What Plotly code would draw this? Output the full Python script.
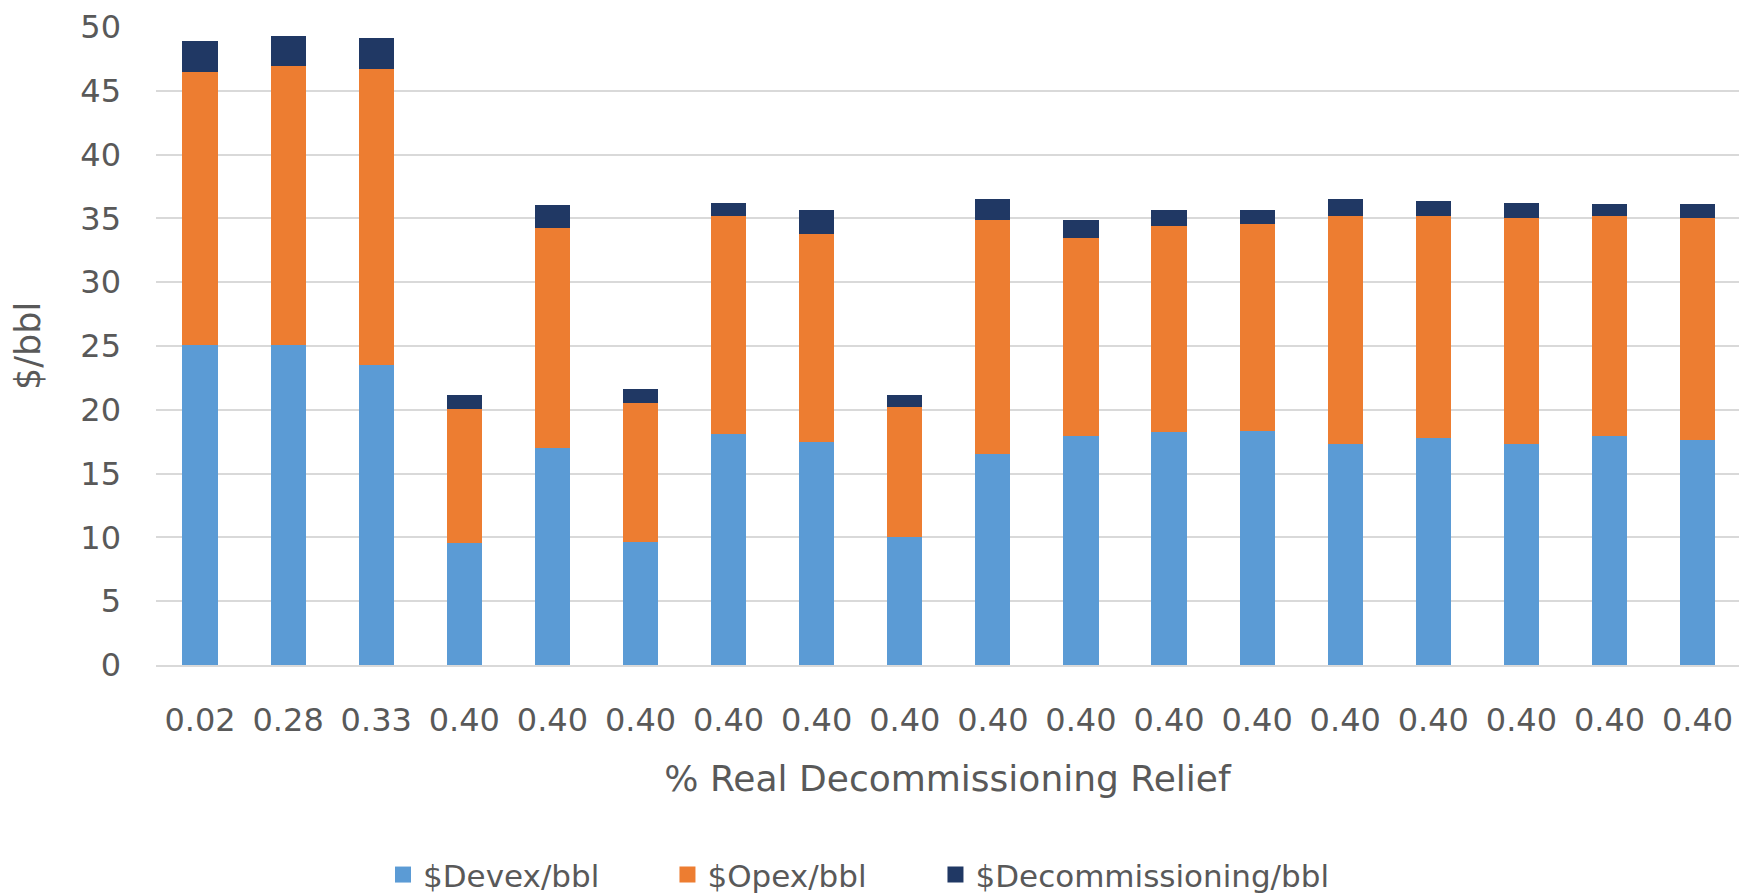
import plotly.graph_objects as go

# Decommissioning relief share for each case (x-axis labels)
relief_labels = ["0.02", "0.28", "0.33", "0.40", "0.40", "0.40", "0.40", "0.40", "0.40",
                 "0.40", "0.40", "0.40", "0.40", "0.40", "0.40", "0.40", "0.40", "0.40"]

# Unit costs, $/bbl
devex = [25.1, 25.1, 23.55, 9.53, 17.03, 9.67, 18.07, 17.47, 10.0,
         16.53, 17.93, 18.24, 18.37, 17.33, 17.77, 17.33, 17.93, 17.63]
opex = [21.36, 21.82, 23.19, 10.55, 17.2, 10.85, 17.08, 16.33, 10.19,
        18.35, 15.54, 16.17, 16.18, 17.82, 17.38, 17.68, 17.22, 17.38]
decom = [2.42, 2.41, 2.42, 1.05, 1.82, 1.08, 1.08, 1.82, 0.97,
         1.65, 1.41, 1.21, 1.07, 1.38, 1.24, 1.22, 0.94, 1.08]

y_ticks = [0, 5, 10, 15, 20, 25, 30, 35, 40, 45, 50]

series = [
    ("$Devex/bbl", devex, "#5B9BD5"),
    ("$Opex/bbl", opex, "#ED7D31"),
    ("$Decommissioning/bbl", decom, "#203864"),
]

FONT = "DejaVu Sans"
TXT = "#595959"
pos = list(range(len(relief_labels)))

fig = go.Figure()
for name, vals, color in series:
    fig.add_trace(go.Bar(
        x=pos, y=vals, name=name, marker=dict(color=color, line=dict(width=0)),
        showlegend=False,
    ))

# One legend box per series so the entries sit on a fixed row
legend_ids = ["legend", "legend2", "legend3"]
legend_x = [0.1434, 0.3231, 0.4924]
for (name, vals, color), lid in zip(series, legend_ids):
    fig.add_trace(go.Scatter(
        x=[None], y=[None], mode="markers", name=name, legend=lid,
        marker=dict(symbol="square", size=16, color=color),
    ))

legend_style = dict(
    orientation="h", xanchor="left", y=-0.329, yanchor="middle",
    font=dict(size=31, color=TXT, family=FONT),
    itemsizing="trace", bgcolor="rgba(0,0,0,0)",
)

fig.update_layout(
    width=1739, height=895,
    margin=dict(l=156, r=0, t=27, b=230, autoexpand=False),
    barmode="stack", bargap=0.6,
    paper_bgcolor="white", plot_bgcolor="white",
    font=dict(family=FONT, color=TXT, size=32),
    showlegend=True,
    legend=dict(x=legend_x[0], **legend_style),
    legend2=dict(x=legend_x[1], **legend_style),
    legend3=dict(x=legend_x[2], **legend_style),
)

fig.update_xaxes(
    range=[-0.5, 17.47],
    tickmode="array", tickvals=pos, ticktext=relief_labels,
    tickfont=dict(size=32, color=TXT, family=FONT),
    showgrid=False, zeroline=False,
    showline=True, linecolor="#d9d9d9", linewidth=1.5,
    ticks="", ticklabelstandoff=26,
    title=dict(text="% Real Decommissioning Relief", font=dict(size=36, color=TXT, family=FONT), standoff=28),
)
fig.update_yaxes(
    range=[0, 50], tickmode="array", tickvals=y_ticks,
    tickfont=dict(size=32, color=TXT, family=FONT),
    showgrid=True, gridcolor="#d9d9d9", gridwidth=1.5,
    zeroline=False, showline=False,
    ticks="", ticklabelstandoff=34,
    title=dict(text="$/bbl", font=dict(size=35, color=TXT, family=FONT), standoff=29),
)

fig.write_html("out.html")
